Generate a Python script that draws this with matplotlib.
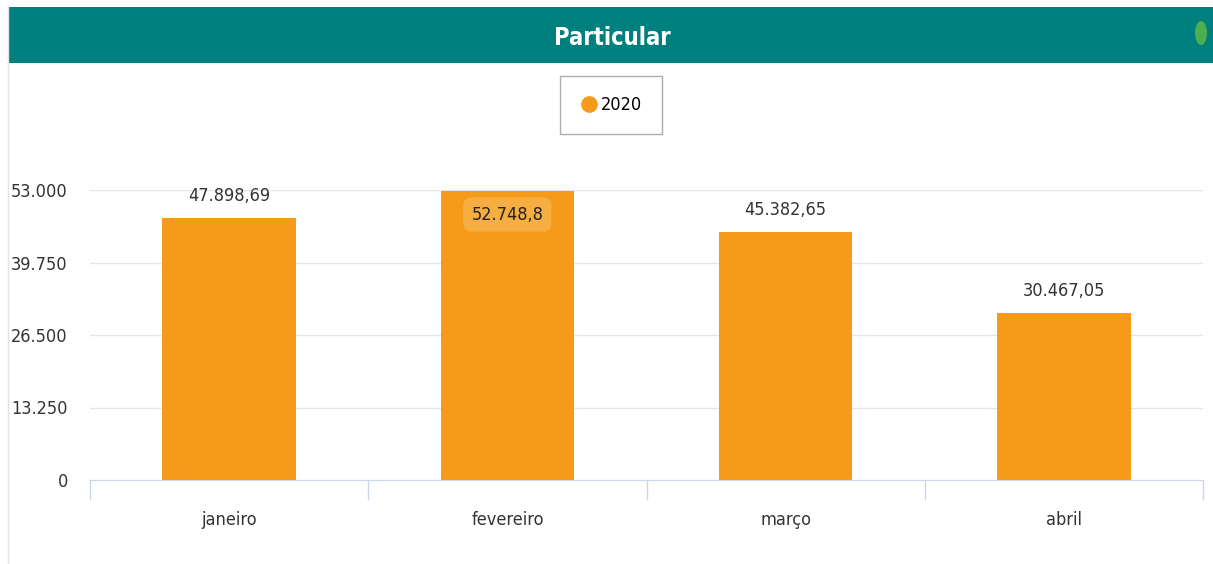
import matplotlib.pyplot as plt
from matplotlib import font_manager
from matplotlib.patches import Rectangle, Ellipse
from matplotlib.lines import Line2D

meses = ['janeiro', 'fevereiro', 'março', 'abril']
valores = [47898.69, 52748.8, 45382.65, 30467.05]
rotulos = ['47.898,69', '52.748,8', '45.382,65', '30.467,05']
yticks = [0, 13250, 26500, 39750, 53000]
ytick_labels = ['0', '13.250', '26.500', '39.750', '53.000']
serie = '2020'

laranja = '#f59b19'
teal = '#007f7f'

# narrow font if there is one, otherwise Liberation Sans
narrow = None
for f in font_manager.fontManager.ttflist:
    nome = (f.name + ' ' + str(f.stretch)).lower()
    if ('narrow' in nome or 'condensed' in nome) and f.style == 'normal' \
            and 'mono' not in nome and 'serif' not in f.name.lower():
        narrow = f
        break
if narrow is not None:
    plt.rcParams['font.family'] = [narrow.name, 'DejaVu Sans']
    plt.rcParams['font.stretch'] = narrow.stretch
    fs = 13
else:
    plt.rcParams['font.family'] = ['Liberation Sans', 'DejaVu Sans']
    fs = 12

fig = plt.figure(figsize=(12.13, 5.64), dpi=100)

# card border + header band
fig.add_artist(Line2D([8/1213, 8/1213], [0, 1 - 7/564], transform=fig.transFigure,
                      color='#e3e3e3', lw=1))
fig.add_artist(Rectangle((8/1213, 1 - 63/564), 1 - 8/1213, 56/564, transform=fig.transFigure,
                         facecolor=teal, edgecolor='none'))
fig.text(612/1213, 1 - 38/564, 'Particular', color='white', fontsize=fs + 4, fontweight='bold',
         ha='center', va='center')
fig.add_artist(Ellipse((1201/1213, 1 - 33/564), 12/1213, 24/564, transform=fig.transFigure,
                       facecolor='#4caf50', edgecolor='none'))

ax = fig.add_axes([90/1213, 1 - 480/564, 1113/1213, 290/564])
x = range(len(meses))
ax.bar(x, valores, width=0.48, color=laranja, zorder=2, label=serie)
ax.set_xlim(-0.5, len(meses) - 0.5)
ax.set_ylim(0, 53000)
ax.set_yticks(yticks)
ax.set_yticklabels(ytick_labels, fontsize=fs, color='#333333')
ax.grid(axis='y', color='#e6e6e6', lw=1, zorder=0)
ax.tick_params(axis='y', length=0, pad=16)
ax.set_xticks([i + 0.5 for i in range(-1, len(meses))], minor=False)
ax.set_xticklabels([])
ax.tick_params(axis='x', length=14.4, color='#ccd6eb', width=1)
ax.set_xticks(list(x), minor=True)
ax.set_xticklabels(meses, minor=True, fontsize=fs, color='#333333')
ax.tick_params(axis='x', which='minor', length=0, pad=22)
for s in ['top', 'right', 'left']:
    ax.spines[s].set_visible(False)
ax.spines['bottom'].set_color('#ccd6eb')

for i, (v, r) in enumerate(zip(valores, rotulos)):
    if v > 51000:
        ax.text(i, v - 2600, r, ha='center', va='top', fontsize=fs, color='#222222', zorder=3,
                bbox=dict(boxstyle='round,pad=0.45', fc='white', ec='none', alpha=0.18))
    else:
        ax.text(i, v + 2400, r, ha='center', va='bottom', fontsize=fs, color='#333333', zorder=3)

leg = fig.legend(loc='center', bbox_to_anchor=(611/1213, 1 - 105/564), fontsize=fs,
                 handles=[Line2D([], [], marker='o', ls='', color=laranja, markersize=11)],
                 labels=[serie], frameon=True, fancybox=False, handletextpad=0.2,
                 handlelength=1.0, borderpad=1.1, borderaxespad=0)
leg.get_frame().set_edgecolor('#999999')

fig.savefig('out.png', dpi=100)
